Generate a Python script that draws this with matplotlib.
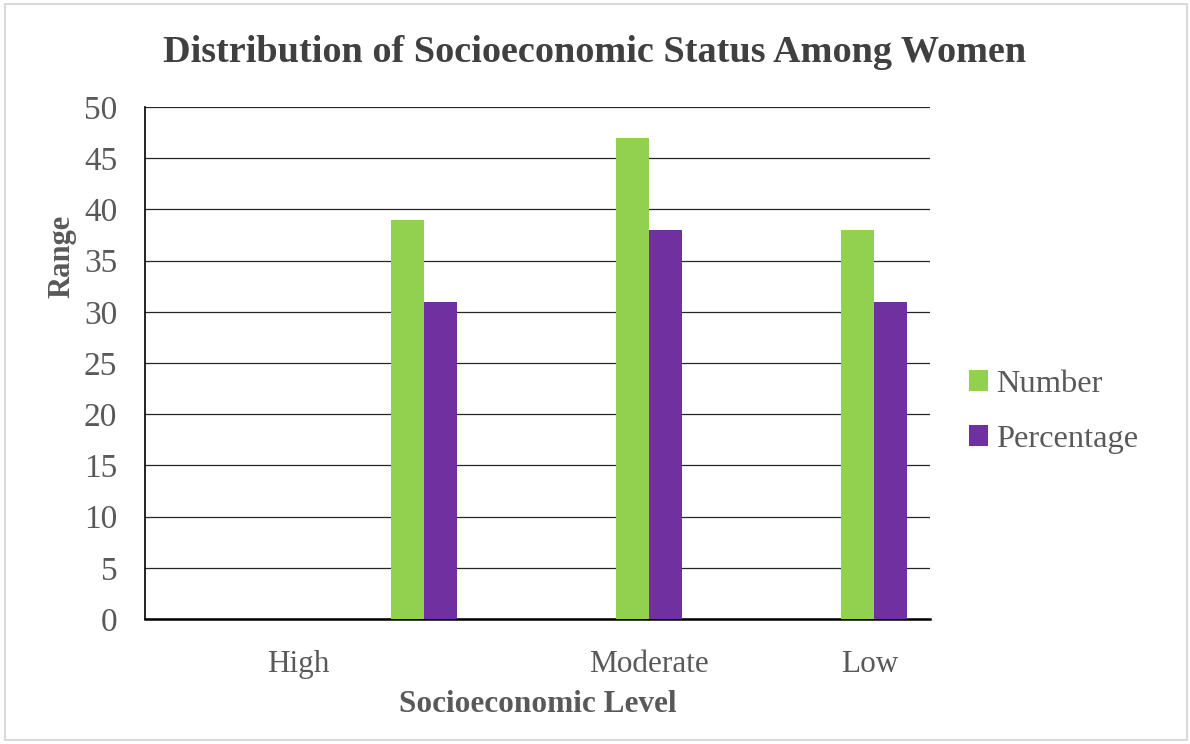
import numpy as np
import matplotlib.pyplot as plt
from matplotlib.patches import Rectangle

# category slots: the first slot is empty, the "High" label sits between slots
slots = [0, 1, 2, 3]
number = [0, 39, 47, 38]
percentage = [0, 31, 38, 31]
tick_labels = ["High", "Moderate", "Low"]
tick_pos = [0.44, 2.0, 2.98]

green = "#92D050"
purple = "#7030A0"
grey = "#595959"

plt.rcParams["font.family"] = ["Liberation Serif", "DejaVu Serif"]

fig = plt.figure(figsize=(11.9, 7.44), dpi=100)
ax = fig.add_axes([145 / 1190, 1 - 619 / 744, 785 / 1190, 512 / 744])

w = 0.147
x = np.array(slots)
ax.bar(x - w / 2, number, w, color=green, label="Number", zorder=3)
ax.bar(x + w / 2, percentage, w, color=purple, label="Percentage", zorder=3)

ax.set_xlim(-0.24, 3.249)
ax.set_ylim(0, 50)
ax.set_yticks(range(0, 51, 5))
ax.yaxis.grid(True, color="#262626", linewidth=0.9, zorder=0)
ax.set_xticks(tick_pos)
ax.set_xticklabels(tick_labels)
ax.tick_params(axis="both", length=0, labelcolor=grey)
ax.tick_params(axis="x", pad=22, labelsize=22.5)
ax.tick_params(axis="y", pad=20, labelsize=24)

for side in ["top", "right"]:
    ax.spines[side].set_visible(False)
ax.spines["left"].set_linewidth(1.2)
ax.spines["bottom"].set_linewidth(1.8)

ax.set_xlabel("Socioeconomic Level", fontsize=22.5, fontweight="bold", color=grey, labelpad=8)
fig.text(62 / 1190, 1 - 256 / 744, "Range", rotation=90, ha="center", va="center",
         fontsize=22, fontweight="bold", color=grey)
fig.text(0.5, 1 - 53 / 744, "Distribution of Socioeconomic Status Among Women",
         ha="center", va="center", fontsize=27.5, fontweight="bold", color="#404040")

ax.legend(loc="center left", bbox_to_anchor=(1.012, 0.405), frameon=False,
          fontsize=23.4, labelcolor=grey, handlelength=0.6, handleheight=0.6,
          handletextpad=0.25, labelspacing=0.8)

fig.patches.append(Rectangle((5 / 1190, 4 / 744), 1182 / 1190, 736 / 744,
                             transform=fig.transFigure, fill=False,
                             edgecolor="#d9d9d9", linewidth=1.5))

fig.savefig("out.png", dpi=100)
